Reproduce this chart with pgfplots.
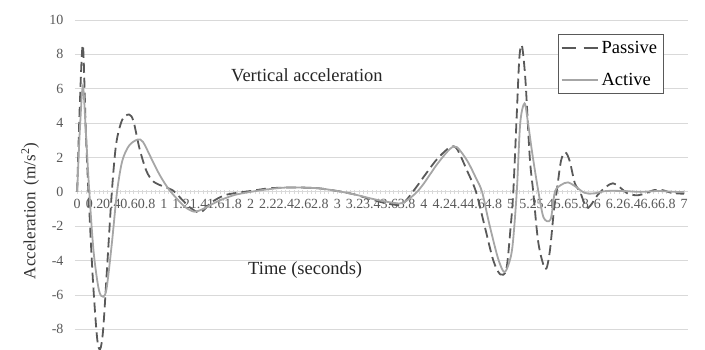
\documentclass[border=0pt]{standalone}
\usepackage{pgfplots}
\pgfplotsset{compat=1.18}
\usepackage{fontspec}
\setmainfont{Liberation Serif}
\definecolor{passivec}{HTML}{595959}
\definecolor{activec}{HTML}{A6A6A6}
\definecolor{gridc}{HTML}{D9D9D9}
\definecolor{tickc}{HTML}{595959}
\begin{document}
\begin{tikzpicture}
\begin{axis}[
  scale only axis,
  width=613bp, height=330bp,
  xmin=-0.025, xmax=7.045,
  ymin=-9.2, ymax=10,
  axis x line=middle,
  axis y line=left,
  axis line style={-, draw=gridc, line width=0.8bp},
  y axis line style={draw=none},
  hide obscured x ticks=false,
  ytick={-8,-6,-4,-2,0,2,4,6,8,10},
  ymajorgrids,
  grid style={draw=gridc, line width=0.8bp},
  ytick style={draw=none},
  xtick={0,0.2,0.4,0.6,0.8,1,1.2,1.4,1.6,1.8,2,2.2,2.4,2.6,2.8,3,3.2,3.4,3.6,3.8,4,4.2,4.4,4.6,4.8,5,5.2,5.4,5.6,5.8,6,6.2,6.4,6.6,6.8,7},
  xticklabels={0,0.2,0.4,0.6,0.8,1,1.2,1.4,1.6,1.8,2,2.2,2.4,2.6,2.8,3,3.2,3.4,3.6,3.8,4,4.2,4.4,4.6,4.8,5,5.2,5.4,5.6,5.8,6,6.2,6.4,6.6,6.8,7},
  minor x tick num=3,
  tick align=center,
  major tick length=4bp,
  minor tick length=4bp,
  xtick style={draw=gridc, line width=0.6bp},
  minor x tick style={draw=gridc, line width=0.6bp},
  /pgf/number format/assume math mode=true,
  ticklabel style={font=\fontsize{14bp}{16bp}\selectfont, text=tickc},
  xticklabel style={yshift=-2bp, inner xsep=0pt},
  yticklabel style={xshift=-6bp},
  legend style={at={(axis cs:5.54,9.2)}, anchor=north west, draw=passivec, line width=0.6bp,
    font=\fontsize{18.5bp}{20bp}\selectfont, row sep=14bp, inner xsep=3bp, inner ysep=5bp,
    nodes={inner xsep=3bp}},
  legend cell align=left,
  clip=true,
]
\addplot[passivec, line width=1.8bp, dash pattern=on 10bp off 5bp, smooth, tension=0.5,
  legend image code/.code={\draw[passivec, line width=1.8bp, dash pattern=on 14bp off 8bp] (0bp,0bp) -- (36bp,0bp);}] coordinates {
(0,0) (0.03,5.0) (0.066,8.55) (0.10,3.5) (0.13,0) (0.18,-5.0) (0.23,-8.5) (0.265,-9.15)
(0.30,-8.0) (0.35,-4.0) (0.40,0) (0.45,2.8) (0.52,4.2) (0.60,4.5) (0.65,4.1) (0.72,2.5)
(0.80,1.2) (0.88,0.6) (1.00,0.3) (1.10,0.1) (1.20,-0.4) (1.30,-0.9) (1.42,-1.2) (1.55,-0.6)
(1.70,-0.2) (1.85,-0.05) (2.0,0.05) (2.2,0.2) (2.4,0.25) (2.6,0.25) (2.8,0.2) (3.0,0.05)
(3.2,-0.15) (3.4,-0.45) (3.6,-0.7) (3.75,-0.7) (3.9,0.2) (4.0,0.9) (4.15,1.9) (4.3,2.6)
(4.38,2.5) (4.5,1.2) (4.6,0.0) (4.7,-2.0) (4.8,-4.0) (4.88,-4.8) (4.95,-4.5) (5.0,-2.0)
(5.03,0) (5.07,4.5) (5.1,7.8) (5.13,8.5) (5.17,6.5) (5.22,2.0) (5.26,0) (5.32,-3.0)
(5.40,-4.5) (5.45,-3.5) (5.50,-1.0) (5.53,0) (5.58,1.8) (5.63,2.3) (5.68,1.8) (5.74,0.5)
(5.80,0) (5.87,-0.9) (5.92,-0.8) (6.0,-0.2) (6.1,0.3) (6.18,0.5) (6.25,0.3) (6.35,-0.1)
(6.45,-0.2) (6.55,-0.1) (6.65,0.1) (6.75,0.1) (6.85,-0.05) (6.95,-0.1) (7.0,-0.1)
};
\addlegendentry{Passive}
\addplot[activec, line width=1.8bp, smooth, tension=0.5,
  legend image code/.code={\draw[activec, line width=1.8bp] (0bp,0bp) -- (36bp,0bp);}] coordinates {
(0,0) (0.03,3.5) (0.066,6.15) (0.10,3.5) (0.14,0) (0.19,-3.5) (0.25,-5.7) (0.30,-6.1)
(0.34,-5.6) (0.40,-3.0) (0.46,0) (0.52,1.8) (0.60,2.7) (0.70,3.05) (0.76,2.9) (0.85,2.0)
(0.95,1.0) (1.05,0.2) (1.15,-0.4) (1.25,-0.9) (1.35,-1.15) (1.45,-1.0) (1.6,-0.6) (1.8,-0.2)
(2.0,0.0) (2.2,0.15) (2.4,0.25) (2.6,0.25) (2.8,0.2) (3.0,0.05) (3.2,-0.15) (3.4,-0.4)
(3.6,-0.6) (3.75,-0.65) (3.9,-0.1) (4.0,0.5) (4.15,1.6) (4.3,2.5) (4.38,2.6) (4.5,1.8)
(4.6,0.8) (4.67,0) (4.75,-1.8) (4.85,-3.8) (4.92,-4.65) (4.97,-4.3) (5.02,-3.2) (5.07,0)
(5.11,4.0) (5.16,5.15) (5.2,4.0) (5.25,2.2) (5.32,0) (5.38,-1.5) (5.46,-1.6) (5.51,0)
(5.58,0.4) (5.66,0.55) (5.75,0.3) (5.85,-0.05) (5.95,-0.1) (6.1,0.05) (6.3,0.05) (6.5,0.0)
(6.7,0.05) (6.9,0.0) (7.0,0.0)
};
\addlegendentry{Active}
\node[font=\fontsize{18.5bp}{20bp}\selectfont, text=black!85] at (axis cs:2.65,6.8) {Vertical acceleration};
\node[font=\fontsize{18.5bp}{20bp}\selectfont, text=black!85] at (axis cs:2.63,-4.54) {Time (seconds)};
\end{axis}
\node[rotate=90, font=\fontsize{17bp}{19bp}\selectfont, text=black!80, anchor=center]
  at ([xshift=-45bp, yshift=-191bp]current axis.north west) {Acceleration\ \,(m/s\textsuperscript{2})};
\pgfresetboundingbox
\path[use as bounding box] ([xshift=-75bp]current axis.south west) rectangle ([xshift=17bp, yshift=20bp]current axis.north east);
\end{tikzpicture}
\end{document}
